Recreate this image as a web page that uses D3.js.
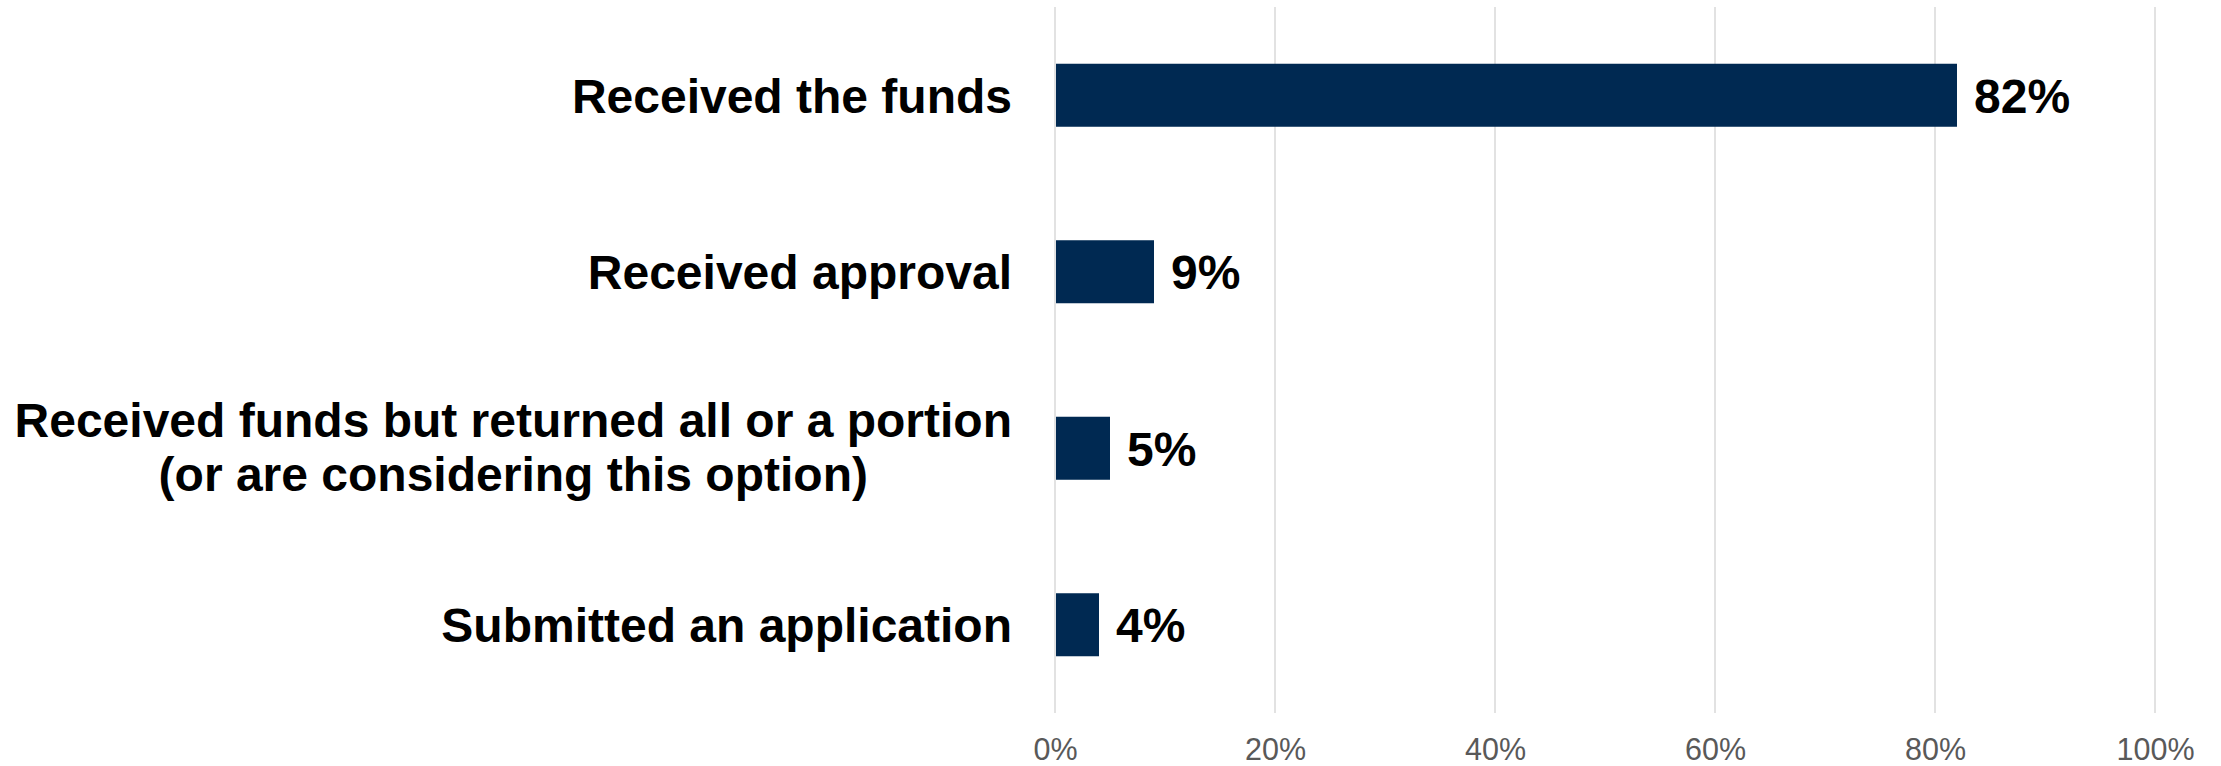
<!DOCTYPE html>
<html>
<head>
<meta charset="utf-8">
<script src="https://cdn.jsdelivr.net/npm/d3@7"></script>
<style>
  html, body { margin: 0; padding: 0; background: #ffffff; }
  svg { display: block; }
</style>
</head>
<body>
<svg id="chart" width="2221" height="766"></svg>
<script>
const categories = [
  "Received the funds",
  "Received approval",
  "Received funds but returned all or a portion (or are considering this option)",
  "Submitted an application"
];
const categoryLines = [
  ["Received the funds"],
  ["Received approval"],
  ["Received funds but returned all or a portion", "(or are considering this option)"],
  ["Submitted an application"]
];
const values = [0.82, 0.09, 0.05, 0.04];
const valueLabels = ["82%", "9%", "5%", "4%"];
const xTicks = [0, 0.2, 0.4, 0.6, 0.8, 1.0];
const xTickLabels = ["0%", "20%", "40%", "60%", "80%", "100%"];

const svg = d3.select("#chart");
const font = "Arial, 'Liberation Sans', Helvetica, sans-serif";

const x = d3.scaleLinear().domain([0, 1]).range([1055, 2155]);
const y = d3.scaleBand().domain(categories).range([7, 713])
  .paddingInner(0.643).paddingOuter(0.3215);

// gridlines
svg.append("g").selectAll("line").data(xTicks).join("line")
  .attr("x1", d => x(d)).attr("x2", d => x(d))
  .attr("y1", 7).attr("y2", 713)
  .attr("stroke", "#d9d9d9").attr("stroke-width", 1.5);

// x axis tick labels
const xAxis = d3.axisBottom(x).tickValues(xTicks)
  .tickFormat((d, i) => xTickLabels[i]).tickSize(0).tickPadding(0);
const gx = svg.append("g").attr("transform", "translate(0,738)").call(xAxis);
gx.select(".domain").remove();
gx.selectAll("text")
  .attr("font-family", font).attr("font-size", "30.5px")
  .attr("fill", "#595959").attr("dy", "0.71em");

// bars
svg.append("g").selectAll("rect").data(values).join("rect")
  .attr("x", x(0) + 1)
  .attr("y", (d, i) => y(categories[i]))
  .attr("width", d => x(d) - x(0) - 1)
  .attr("height", y.bandwidth())
  .attr("fill", "#002952");

// value labels
svg.append("g").selectAll("text").data(values).join("text")
  .attr("x", d => x(d) + 17)
  .attr("y", (d, i) => y(categories[i]) + y.bandwidth() / 2)
  .attr("dy", "0.36em")
  .attr("font-family", font).attr("font-size", "48px").attr("font-weight", "bold")
  .attr("fill", "#000")
  .text((d, i) => valueLabels[i]);

// category labels
const lineH = 54;
const anchorX = 1012;
const catG = svg.append("g").selectAll("text").data(categories).join("text")
  .attr("font-family", font).attr("font-size", "48px").attr("font-weight", "bold")
  .attr("fill", "#000").attr("text-anchor", "end");
catG.each(function(c, i) {
  const lines = categoryLines[i];
  const cy = y(c) + y.bandwidth() / 2 - (lines.length > 1 ? 2 : 0);
  const t = d3.select(this);
  lines.forEach((ln, j) => {
    const off = (j - (lines.length - 1) / 2) * lineH;
    t.append("tspan")
      .attr("x", anchorX)
      .attr("y", cy + off).attr("dy", "0.36em")
      .text(ln);
  });
});
// center following lines under the first line
catG.each(function(c, i) {
  const lines = categoryLines[i];
  if (lines.length < 2) return;
  const spans = d3.select(this).selectAll("tspan").nodes();
  const w0 = spans[0].getComputedTextLength();
  const center = anchorX - w0 / 2;
  spans.forEach((s, j) => {
    if (j > 0) d3.select(s).attr("x", center).attr("text-anchor", "middle");
  });
});
</script>
</body>
</html>
